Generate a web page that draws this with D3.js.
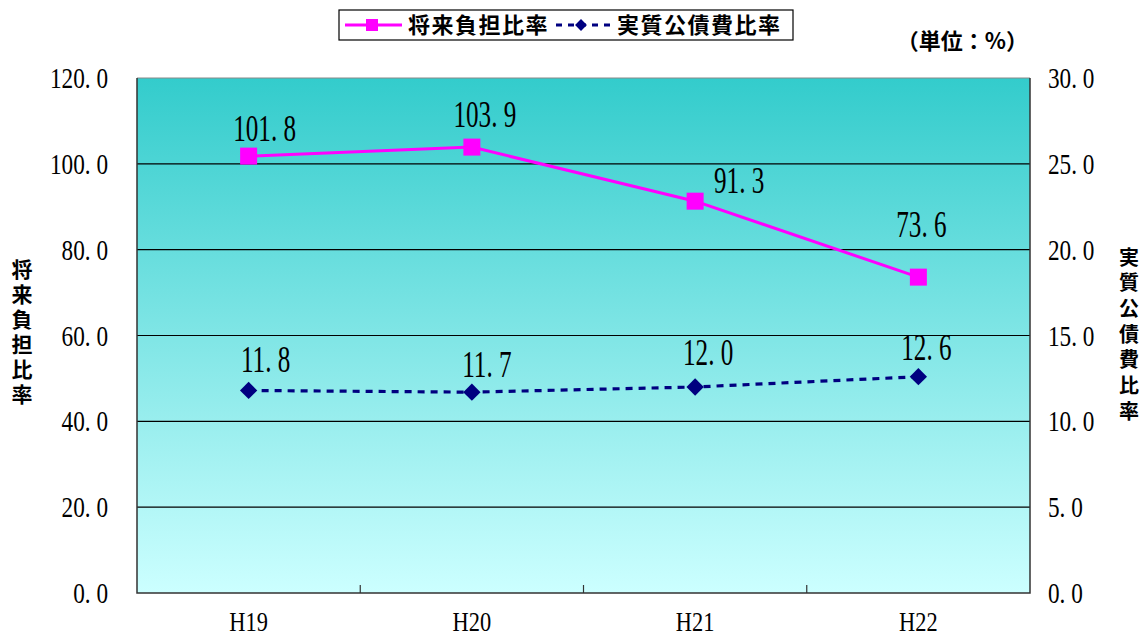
<!DOCTYPE html>
<html>
<head>
<meta charset="utf-8">
<script src="https://cdn.jsdelivr.net/npm/d3@7"></script>
<style>
  html, body { margin: 0; padding: 0; background: #fff; }
  svg { display: block; }
  .num { font-family: "Liberation Serif", "Times New Roman", serif; fill: #000; }
  .jp { font-family: "Noto Sans CJK JP", sans-serif; font-weight: bold; fill: #000; }
</style>
</head>
<body>
<svg id="chart" width="1144" height="638"></svg>
<script>
// Fiscal years
const years = ["H19", "H20", "H21", "H22"];
// 将来負担比率 (left axis)
const futureBurden = [101.8, 103.9, 91.3, 73.6];
// 実質公債費比率 (right axis)
const debtService = [11.8, 11.7, 12.0, 12.6];
// Axis ticks
const leftTicks = [0, 20, 40, 60, 80, 100, 120];
const rightTicks = [0, 5, 10, 15, 20, 25, 30];
// Label nudges (dx, dy) relative to each marker
const burdenLabelShift = [[16, -15], [13, -20], [44, -8], [3, -40]];
const debtLabelShift = [[17, -18], [15, -15], [13, -22], [8, -17]];

const svg = d3.select("#chart");
const plot = { left: 137, right: 1030, top: 78, bottom: 593 };

const x = d3.scaleBand().domain(years).range([plot.left, plot.right]);
const yL = d3.scaleLinear().domain([0, 120]).range([plot.bottom, plot.top]);
const yR = d3.scaleLinear().domain([0, 30]).range([plot.bottom, plot.top]);
const cx = d => x(d) + x.bandwidth() / 2;

// Background gradient
const defs = svg.append("defs");
const grad = defs.append("linearGradient").attr("id", "bg")
  .attr("x1", 0).attr("y1", 0).attr("x2", 0).attr("y2", 1);
grad.append("stop").attr("offset", "0%").attr("stop-color", "#33CCCC");
grad.append("stop").attr("offset", "100%").attr("stop-color", "#CCFFFF");

svg.append("rect")
  .attr("x", plot.left).attr("y", plot.top)
  .attr("width", plot.right - plot.left).attr("height", plot.bottom - plot.top)
  .attr("fill", "url(#bg)");

// Gridlines
svg.append("g").selectAll("line").data(leftTicks.filter(t => t > 0 && t < 120)).join("line")
  .attr("x1", plot.left).attr("x2", plot.right)
  .attr("y1", d => yL(d)).attr("y2", d => yL(d))
  .attr("stroke", "#000").attr("stroke-width", 1.2);

// Frame
svg.append("line").attr("x1", plot.left).attr("x2", plot.right)
  .attr("y1", plot.top).attr("y2", plot.top).attr("stroke", "#888").attr("stroke-width", 1);
svg.append("path")
  .attr("d", `M${plot.left},${plot.top}V${plot.bottom}H${plot.right}V${plot.top}`)
  .attr("fill", "none").attr("stroke", "#333").attr("stroke-width", 1.5);

// Category ticks on bottom (inward)
svg.append("g").selectAll("line").data(years.slice(1)).join("line")
  .attr("x1", d => x(d)).attr("x2", d => x(d))
  .attr("y1", plot.bottom).attr("y2", plot.bottom - 8)
  .attr("stroke", "#333").attr("stroke-width", 1.2);

// Condensed serif text helper
function numText(g, tx, ty, str, size, sx, anchor) {
  return g.append("text").attr("class", "num")
    .attr("transform", `translate(${tx},${ty}) scale(${sx},1)`)
    .attr("text-anchor", anchor)
    .attr("font-size", size)
    .text(str);
}
const fmt = v => v.toFixed(1).replace(".", ". ");

// Left tick labels
const gL = svg.append("g");
leftTicks.forEach(t => numText(gL, 108, yL(t) + 10, fmt(t), 29, 0.8, "end"));
// Right tick labels
const gR = svg.append("g");
rightTicks.forEach(t => numText(gR, 1048, yR(t) + 10, fmt(t), 29, 0.8, "start"));
// Category labels
const gX = svg.append("g");
years.forEach(y => numText(gX, cx(y), 631, y, 28, 0.8, "middle"));

// Vertical axis titles
function vertical(text, xc, yTop, size, spacing) {
  svg.append("text").attr("class", "jp")
    .attr("x", xc).attr("y", yTop)
    .style("writing-mode", "vertical-rl")
    .style("text-orientation", "upright")
    .attr("font-size", size)
    .attr("letter-spacing", spacing)
    .text(text);
}
vertical("将来負担比率", 22, 259, 21, 4);
vertical("実質公債費比率", 1129, 247, 20, 5.7);

// Unit
svg.append("text").attr("class", "jp").attr("x", 1028).attr("y", 49)
  .attr("text-anchor", "end").attr("font-size", 22)
  .text("（単位：%）");

// 将来負担比率 line
const lineL = d3.line().x((d, i) => cx(years[i])).y(d => yL(d));
svg.append("path").datum(futureBurden).attr("d", lineL)
  .attr("fill", "none").attr("stroke", "#FF00FF").attr("stroke-width", 3);
svg.append("g").selectAll("rect").data(futureBurden).join("rect")
  .attr("x", (d, i) => cx(years[i]) - 8.5).attr("y", d => yL(d) - 8.5)
  .attr("width", 17).attr("height", 17).attr("fill", "#FF00FF");

// 実質公債費比率 line
const lineR = d3.line().x((d, i) => cx(years[i])).y(d => yR(d));
svg.append("path").datum(debtService).attr("d", lineR)
  .attr("fill", "none").attr("stroke", "#000080").attr("stroke-width", 3.2)
  .attr("stroke-dasharray", "7,6");
const diamond = d3.symbol().type(d3.symbolSquare).size(150);
svg.append("g").selectAll("path").data(debtService).join("path")
  .attr("d", diamond)
  .attr("transform", (d, i) => `translate(${cx(years[i])},${yR(d)}) rotate(45)`)
  .attr("fill", "#000080");

// Value labels
const gV = svg.append("g");
futureBurden.forEach((v, i) => {
  const [dx, dy] = burdenLabelShift[i];
  numText(gV, cx(years[i]) + dx, yL(v) + dy, fmt(v), 37, 0.68, "middle");
});
debtService.forEach((v, i) => {
  const [dx, dy] = debtLabelShift[i];
  numText(gV, cx(years[i]) + dx, yR(v) + dy, fmt(v), 37, 0.68, "middle");
});

// Legend
const lg = svg.append("g");
lg.append("rect").attr("x", 339).attr("y", 10).attr("width", 454).attr("height", 30)
  .attr("fill", "#fff").attr("stroke", "#000").attr("stroke-width", 1.2);
lg.append("line").attr("x1", 345).attr("x2", 402).attr("y1", 25).attr("y2", 25)
  .attr("stroke", "#FF00FF").attr("stroke-width", 3);
lg.append("rect").attr("x", 366).attr("y", 19).attr("width", 12).attr("height", 12).attr("fill", "#FF00FF");
lg.append("text").attr("class", "jp").attr("x", 408).attr("y", 33)
  .attr("font-size", 22).attr("letter-spacing", 1.5).text("将来負担比率");
lg.append("line").attr("x1", 556).attr("x2", 612).attr("y1", 25).attr("y2", 25)
  .attr("stroke", "#000080").attr("stroke-width", 3).attr("stroke-dasharray", "6,6");
lg.append("path").attr("d", d3.symbol().type(d3.symbolSquare).size(70))
  .attr("transform", "translate(581,25) rotate(45)").attr("fill", "#000080");
lg.append("text").attr("class", "jp").attr("x", 617).attr("y", 33)
  .attr("font-size", 22).attr("letter-spacing", 1.5).text("実質公債費比率");
</script>
</body>
</html>
